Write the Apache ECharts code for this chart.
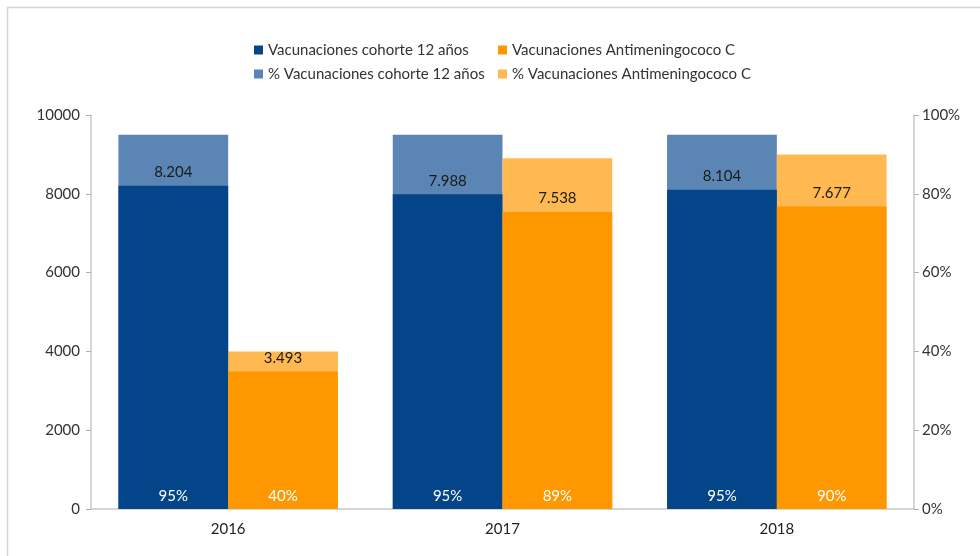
<!DOCTYPE html>
<html>
<head>
<meta charset="utf-8">
<script src="https://cdn.jsdelivr.net/npm/echarts@6/dist/echarts.min.js"></script>
<style>
  html, body { margin: 0; padding: 0; background: #fff; }
  #chart { width: 980px; height: 556px; }
</style>
</head>
<body>
<div id="chart"></div>
<script>
// datos
const years = ["2016", "2017", "2018"];
const cohorte = [8204, 7988, 8104];
const antimeningococo = [3493, 7538, 7677];
const pctCohorte = [95, 95, 95];
const pctAntimeningococo = [40, 89, 90];
const leftTicks = { min: 0, max: 10000, interval: 2000 };
const rightTicks = { min: 0, max: 100, interval: 20 };

const names = [
    "Vacunaciones cohorte 12 años",
    "% Vacunaciones cohorte 12 años",
    "Vacunaciones Antimeningococo C",
    "% Vacunaciones Antimeningococo C"
];
const colors = ["#044589", "#5a85b4", "#ff9800", "#ffb950"];
const FONT = "Lato, 'DejaVu Sans', sans-serif";

// 8204 -> "8.204"
const fmt = (v) => String(v).replace(/\B(?=(\d{3})+(?!\d))/g, ".");

const chart = echarts.init(document.getElementById("chart"), null, { renderer: "canvas" });

const valueLabel = {
    show: true,
    position: "top",
    distance: 6,
    color: "#1a1a1a",
    fontFamily: FONT,
    fontSize: 15,
    formatter: (p) => fmt(p.value)
};
const pctLabel = {
    show: true,
    position: "insideBottom",
    distance: 5,
    color: "#fff",
    fontFamily: FONT,
    fontSize: 15,
    formatter: (p) => p.value + "%"
};
const legendText = { fontSize: 15, color: "#333", lineHeight: 16, fontFamily: FONT };

// barras de porcentaje (detrás), barras de valores (delante) y
// una capa transparente encima solo para las etiquetas de %
function bar(name, data, xIdx, yIdx, color, label, z) {
    return {
        name: name,
        type: "bar",
        xAxisIndex: xIdx,
        yAxisIndex: yIdx,
        data: data,
        barGap: "0%",
        barCategoryGap: "20%",
        itemStyle: { color: color },
        label: label,
        z: z
    };
}

chart.setOption({
    backgroundColor: "#fff",
    animation: false,
    textStyle: { fontFamily: FONT },
    graphic: [{
        type: "rect",
        left: 5,
        top: 5,
        shape: { width: 1100, height: 700 },
        style: { fill: "none", stroke: "#d6d6d6", lineWidth: 1.5 },
        silent: true
    }],
    legend: [
        {
            data: [names[0], names[1]],
            orient: "vertical",
            left: 249,
            top: 37,
            itemWidth: 9,
            itemHeight: 9,
            itemGap: 8,
            icon: "rect",
            textStyle: legendText
        },
        {
            data: [names[2], names[3]],
            orient: "vertical",
            left: 493,
            top: 37,
            itemWidth: 9,
            itemHeight: 9,
            itemGap: 8,
            icon: "rect",
            textStyle: legendText
        }
    ],
    grid: { left: 91, right: 66, top: 115, bottom: 47 },
    xAxis: [
        {
            type: "category",
            data: years,
            axisLine: { lineStyle: { color: "#c8c8c8", width: 1.5 } },
            axisTick: { length: 7, lineStyle: { color: "#b0b0b0" } },
            axisLabel: { color: "#222", fontSize: 15, margin: 13, fontFamily: FONT }
        },
        { type: "category", data: years, show: false },
        { type: "category", data: years, show: false }
    ],
    yAxis: [
        {
            type: "value",
            min: leftTicks.min,
            max: leftTicks.max,
            interval: leftTicks.interval,
            splitLine: { show: false },
            axisLine: { show: true, lineStyle: { color: "#c8c8c8", width: 1.5 } },
            axisTick: { show: true, length: 5, lineStyle: { color: "#b0b0b0" } },
            axisLabel: { color: "#333", fontSize: 15, margin: 11, fontFamily: FONT, formatter: (v) => String(v) }
        },
        {
            type: "value",
            position: "right",
            min: rightTicks.min,
            max: rightTicks.max,
            interval: rightTicks.interval,
            splitLine: { show: false },
            axisLine: { show: true, lineStyle: { color: "#c8c8c8", width: 1.5 } },
            axisTick: { show: true, length: 5, lineStyle: { color: "#b0b0b0" } },
            axisLabel: { color: "#333", fontSize: 15, margin: 8, fontFamily: FONT, formatter: "{value}%" }
        }
    ],
    series: [
        bar(names[1], pctCohorte, 0, 1, colors[1], { show: false }, 2),
        bar(names[3], pctAntimeningococo, 0, 1, colors[3], { show: false }, 2),
        bar(names[0], cohorte, 1, 0, colors[0], valueLabel, 3),
        bar(names[2], antimeningococo, 1, 0, colors[2], valueLabel, 3),
        bar("etiqueta1", pctCohorte, 2, 1, "transparent", pctLabel, 4),
        bar("etiqueta2", pctAntimeningococo, 2, 1, "transparent", pctLabel, 4)
    ]
});

window.addEventListener("resize", () => chart.resize());
</script>
</body>
</html>
